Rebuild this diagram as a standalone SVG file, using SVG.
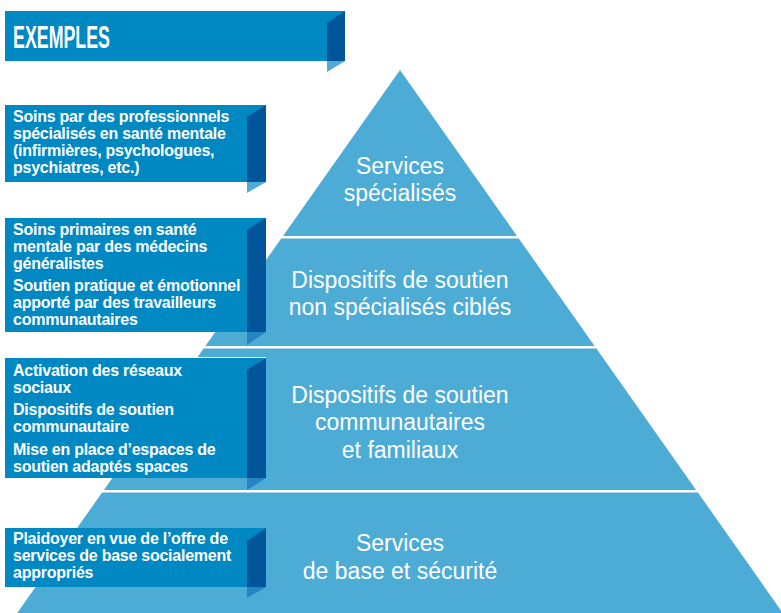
<svg xmlns="http://www.w3.org/2000/svg" width="781" height="613" viewBox="0 0 781 613">
<style>
.band{fill:#4cacd6}
.box{fill:#0088c2}
.fold{fill:#03559b}
.flapw{fill:#4eaad6}
.flapp{fill:#2585c1}
.bt{font-family:"Liberation Sans",Arial,sans-serif;font-weight:bold;font-size:16px;letter-spacing:-0.25px;fill:#fff}
.pt{font-family:"Liberation Sans",Arial,sans-serif;font-size:23px;fill:#fff;text-anchor:middle}
</style>
<rect width="781" height="613" fill="#fff"/>
<g id="pyramid">
  <g id="level1"><polygon class="band" points="400,70 517,236 283,236"/>
    <text class="pt" x="400" y="174">Services</text>
    <text class="pt" x="400" y="201">spécialisés</text></g>
  <g id="level2"><polygon class="band" points="281.2,238.5 518.8,238.5 594.6,346 205.4,346"/>
    <text class="pt" x="400" y="288">Dispositifs de soutien</text>
    <text class="pt" x="400" y="315">non spécialisés ciblés</text></g>
  <g id="level3"><polygon class="band" points="203.6,348.5 596.4,348.5 696.1,490 103.9,490"/>
    <text class="pt" x="400" y="402.5">Dispositifs de soutien</text>
    <text class="pt" x="400" y="430">communautaires</text>
    <text class="pt" x="400" y="457.5">et familiaux</text></g>
  <g id="level4"><polygon class="band" points="102.1,492.5 697.9,492.5 782.8,613 17.2,613"/>
    <text class="pt" x="400" y="551">Services</text>
    <text class="pt" x="400" y="578.5">de base et sécurité</text></g>
</g>
<g id="header">
  <rect class="box" x="5" y="11" width="340" height="50"/>
  <polygon class="fold" points="327,23 345,11 345,61 327,61"/>
  <polygon class="flapw" points="327,61 345,61 327,72"/>
  <text x="13" y="48" font-family="'Liberation Sans',Arial,sans-serif" font-weight="bold" font-size="31" fill="#fff" textLength="97" lengthAdjust="spacingAndGlyphs">EXEMPLES</text>
</g>
<g id="box1">
  <rect class="box" x="5" y="105" width="261" height="77"/>
  <polygon class="fold" points="247,117 266,105 266,182 247,182"/>
  <polygon class="flapw" points="247,182 266,182 247,193"/>
  <text class="bt" x="13" y="121.5">Soins par des professionnels</text>
  <text class="bt" x="13" y="138.8">spécialisés en santé mentale</text>
  <text class="bt" x="13" y="156.1">(infirmières, psychologues,</text>
  <text class="bt" x="13" y="173.4">psychiatres, etc.)</text>
</g>
<g id="box2">
  <rect class="box" x="5" y="218" width="261" height="114"/>
  <polygon class="fold" points="247,230 266,218 266,332 247,332"/>
  <polygon class="flapp" points="247,332 266,332 247,345"/>
  <text class="bt" x="13" y="235">Soins primaires en santé</text>
  <text class="bt" x="13" y="252">mentale par des médecins</text>
  <text class="bt" x="13" y="269">généralistes</text>
  <text class="bt" x="13" y="291">Soutien pratique et émotionnel</text>
  <text class="bt" x="13" y="308">apporté par des travailleurs</text>
  <text class="bt" x="13" y="325">communautaires</text>
</g>
<g id="box3">
  <rect class="box" x="5" y="358" width="261" height="120"/>
  <line x1="5" y1="357.5" x2="266" y2="357.5" stroke="#fff" stroke-width="1"/>
  <polygon class="fold" points="247,370 266,358 266,478 247,478"/>
  <polygon class="flapp" points="247,478 266,478 247,490"/>
  <text class="bt" x="13" y="375.5">Activation des réseaux</text>
  <text class="bt" x="13" y="392.8">sociaux</text>
  <text class="bt" x="13" y="414.8">Dispositifs de soutien</text>
  <text class="bt" x="13" y="432.1">communautaire</text>
  <text class="bt" x="13" y="455">Mise en place d’espaces de</text>
  <text class="bt" x="13" y="472.3">soutien adaptés spaces</text>
</g>
<g id="box4">
  <rect class="box" x="5" y="528" width="261" height="59"/>
  <polygon class="fold" points="247,541 266,528 266,587 247,587"/>
  <polygon class="flapp" points="247,587 266,587 247,598"/>
  <text class="bt" x="13" y="544.3">Plaidoyer en vue de l’offre de</text>
  <text class="bt" x="13" y="561">services de base socialement</text>
  <text class="bt" x="13" y="577.7">appropriés</text>
</g>
<g id="connectors"/>
</svg>
